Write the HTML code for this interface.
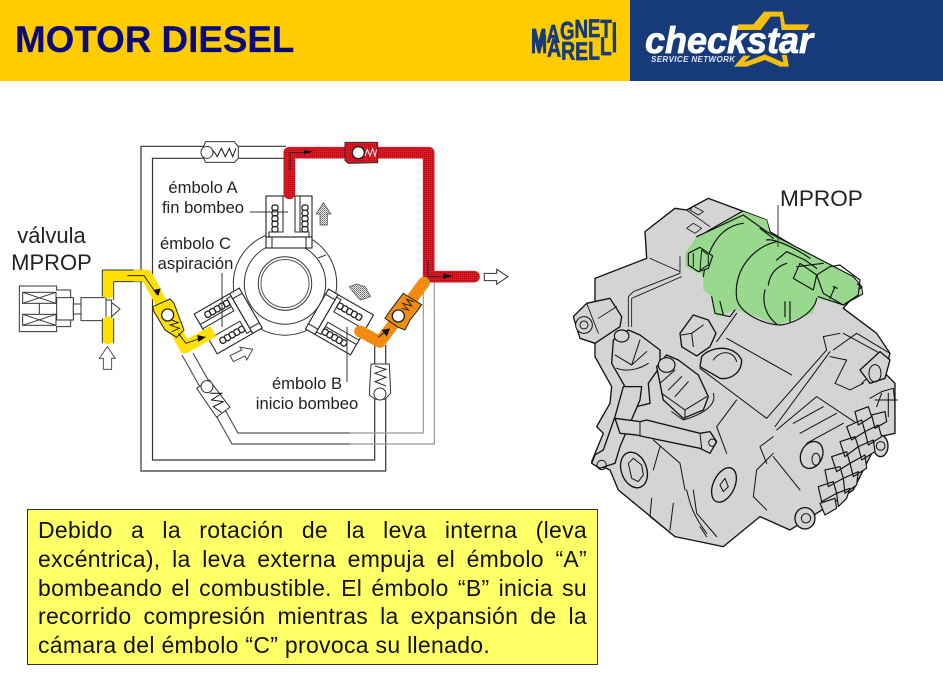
<!DOCTYPE html>
<html><head><meta charset="utf-8"><style>
html,body{margin:0;padding:0;background:#fff}
#p{position:relative;width:943px;height:674px;overflow:hidden;background:#fff;font-family:"Liberation Sans",sans-serif}
svg{position:absolute;left:0;top:0}
#box{position:absolute;left:27px;top:509px;width:571px;height:156px;box-sizing:border-box;border:1.5px solid #333;background:#ffff66;padding:6px 10px 0 10px;font-size:23px;letter-spacing:.3px;line-height:28.8px;color:#111}
#box div{text-align:justify;text-align-last:justify;white-space:nowrap}
#box div.l{text-align-last:left}
</style></head><body><div id="p">
<svg width="943" height="674" viewBox="0 0 943 674" font-family="'Liberation Sans',sans-serif">
<defs>
<pattern id="r" width="6" height="6" patternUnits="userSpaceOnUse"><rect width="6" height="6" fill="#f01020"/><rect width="3" height="3" fill="#a00c14"/></pattern>
<pattern id="d" width="6" height="6" patternUnits="userSpaceOnUse"><rect width="6" height="6" fill="#eee"/><rect width="3" height="3" fill="#666"/><rect x="3" y="3" width="3" height="3" fill="#888"/></pattern>
<g id="coils" fill="none" stroke="#222" stroke-width="1.3">
<rect x="-3" y="0" width="6" height="5.4" rx="2"/><rect x="-3" y="5.4" width="6" height="5.4" rx="2"/><rect x="-3" y="10.8" width="6" height="5.4" rx="2"/><rect x="-3" y="16.2" width="6" height="5.4" rx="2"/><rect x="-3" y="21.6" width="6" height="5.4" rx="2"/>
</g>
<g id="plunger" fill="none" stroke="#222" stroke-width="1.1">
<rect x="-23" y="-91" width="46" height="41" fill="#fff"/>
<rect x="-23" y="-50" width="46" height="11" fill="#fff"/>
<path d="M-20 -50V-55H-6V-91M6 -91V-55H20V-50M11 -91V-55M-17 -50V-39M17 -50V-39" stroke="#333"/>
<use href="#coils" x="-14" y="-82"/>
<use href="#coils" x="16" y="-82"/>
</g>
</defs>

<!-- header -->
<rect width="630" height="81" fill="#ffcc00"/>
<rect x="630" width="313" height="81" fill="#163a7a"/>
<text x="15" y="52" font-size="36.8" font-weight="bold" fill="#0a0a78" stroke="#0a0a78" stroke-width=".2">MOTOR DIESEL</text>
<g fill="#163a7a" font-weight="bold" stroke="#163a7a" stroke-width=".7" font-size="25">
<text transform="translate(531,0) scale(.745,1)" x="0" y="46.5 42.5 39.5 37.5 37 37.5 40">MAGNETI</text>
<text transform="translate(531,0) scale(.775,1)" x="0" y="53 56.7 59.5 60 59.5 55 52">MARELLI</text>
</g>
<g transform="translate(640,5) scale(.3333)" fill="#f5bf10">
<path d="M372 20H428L435 58H508L498 75H425L420 35H392L362 75H285L295 58H340Z"/>
<path d="M282 185L310 152H332L312 172L375 148L430 172L425 150H440L447 185H420L375 165L320 185Z"/>
</g>
<text x="645" y="53" font-size="37" font-weight="bold" font-style="italic" fill="#fff" stroke="#fff" stroke-width=".8" textLength="168" lengthAdjust="spacingAndGlyphs">checkstar</text>
<text x="651" y="62" font-size="8" font-weight="bold" font-style="italic" fill="#dfe6f2" textLength="84" lengthAdjust="spacing">SERVICE NETWORK</text>

<!-- frame pipes -->
<g fill="none" stroke="#333" stroke-width="1.2">
<path d="M286 146.3H141V471H385.7V345"/>
<path d="M286 158.3H152.5V460H374.7V345"/>
<path stroke="#555" d="M193 353L238 433H350"/>
<path stroke="#555" d="M182 355L232 444H350"/>
<path stroke="#999" d="M350 433H423.3V282M350 444H434.3V282"/>
</g>
<!-- cam -->
<g fill="none" stroke="#333">
<circle cx="285" cy="283.5" r="51.7" fill="#fff"/>
<circle cx="285" cy="283.5" r="40.7"/>
<circle cx="285" cy="283.5" r="26.7"/>
<circle cx="285" cy="283.5" r="24" stroke="#555"/>
<path d="M318 258L326 255" stroke="#333"/>
</g>
<use href="#plunger" transform="translate(289,287)"/>
<use href="#plunger" transform="translate(283.2,289.5) rotate(120)"/>
<use href="#plunger" transform="translate(284.5,288.5) rotate(-120)"/>

<!-- MPROP valve -->
<g transform="translate(0,130) scale(.3333)" fill="#fff" stroke="#333" stroke-width="3">
<path d="M58 468H170V480H212V505H220V570H212V590H170V605H58Z"/>
<rect x="68" y="487" width="100" height="33"/><rect x="68" y="553" width="100" height="33"/>
<path d="M68 487L168 520M168 487L68 520M68 553L168 586M168 553L68 586M118 520V553"/>
<rect x="170" y="503" width="50" height="67"/>
<rect x="220" y="522" width="23" height="30"/>
<rect x="243" y="503" width="75" height="69"/>
<path d="M318 510H335V565H318ZM335 518L360 537L335 560Z"/>
<path fill="#ffe000" stroke="none" d="M307 420H430V455H341V490C341 510 307 510 307 490Z"/>
<path fill="#ffe000" stroke="none" d="M307 580C307 552 341 552 341 580V625C341 648 307 648 307 625Z"/>
<path fill="none" d="M307 420V500M341 455V510M341 565V640M307 565V640M307 420H430M341 455H430"/>
<path d="M310 718H335V685H346L322 650L298 685H310Z" stroke-width="2.5"/>
</g>

<!-- yellow line -->
<g transform="translate(0,130) scale(.3333)">
<path d="M400 437H440L555 652L640 604" fill="none" stroke="#ffe000" stroke-width="36" stroke-linejoin="round"/>
<path d="M382 437H432L472 495" fill="none" stroke="#222" stroke-width="3"/><path d="M460 480L482 475L475 498Z" fill="#111"/>
<path fill="#ffe000" stroke="#222" stroke-width="3" d="M458 530L510 507L522 520L552 600L530 622L495 600L462 545Z"/>
<circle cx="503" cy="555" r="18" fill="#fff" stroke="#222" stroke-width="4"/>
<path d="M515 570L535 578L510 585L538 595L515 605" fill="none" stroke="#222" stroke-width="3"/>
<path d="M535 610L558 640L610 622" fill="none" stroke="#222" stroke-width="3"/><path d="M592 615L618 621L595 636Z" fill="#111"/>
</g>

<!-- top / lower valves -->
<g transform="translate(0,130) scale(.3333)" fill="#fff" stroke="#333" stroke-width="3">
<path d="M603 67L617 35H703L715 50V85L703 97H617Z"/>
<circle cx="621" cy="67" r="18"/>
<path fill="none" stroke="#111" d="M640 62L652 80L664 55L676 80L688 55L698 80L708 55"/>
<path d="M590 775L628 750L690 832L650 862Z"/>
<circle cx="621" cy="770" r="18"/>
<path fill="none" stroke="#111" d="M630 790L665 790L635 810L670 815L640 830L665 848"/>
</g>

<!-- red + orange -->
<g transform="translate(270,130) scale(.3333)">
<path d="M58 190V68H476V440H612" fill="none" stroke="url(#r)" stroke-width="35" stroke-linecap="round" stroke-linejoin="round"/>
<path d="M462 458L330 636L270 604" fill="none" stroke="#f28c10" stroke-width="35" stroke-linecap="round" stroke-linejoin="round"/>
<path d="M60 120V68H120M474 390V440H540" fill="none" stroke="#222" stroke-width="3"/>
<path d="M102 60L128 65L102 72ZM520 430L548 438L520 447Z" fill="#111"/>
<path d="M225 37H323V98L235 100L225 92Z" fill="url(#r)" stroke="#333" stroke-width="3"/>
<circle cx="265" cy="68" r="18" fill="#fff" stroke="#222" stroke-width="4"/>
<path d="M285 78L292 58L300 78L308 56L315 78L320 58" fill="none" stroke="#eee" stroke-width="3"/>
<path d="M400 490L412 498L455 524L440 545L420 570L405 600L385 592L345 565L358 545Z" fill="#f28c10" stroke="#222" stroke-width="3"/>
<circle cx="385" cy="558" r="18" fill="#fff" stroke="#222" stroke-width="4"/>
<path d="M395 535L415 540L398 520L425 528L410 508L432 516" fill="none" stroke="#222" stroke-width="3"/>
<path d="M325 622L352 600" stroke="#222" stroke-width="3"/><path d="M335 600L360 595L350 620Z" fill="#111"/>
<path d="M303 702H358L362 790L345 808H315L298 795Z" fill="#fff" stroke="#333" stroke-width="3"/>
<circle cx="330" cy="792" r="18" fill="#fff" stroke="#333" stroke-width="3"/>
<path d="M315 708L348 718L315 730L348 742L315 755L348 768" fill="none" stroke="#222" stroke-width="3"/>
<path d="M643 430H680V418L714 440L680 463V452H643Z" fill="#fff" stroke="#333" stroke-width="3"/>
<path d="M245 480L238 470L260 462L285 470L302 500L272 510L265 505Z" fill="url(#d)" stroke="#444" stroke-width="2"/>
</g>
<g transform="translate(190,190) scale(.3333)" stroke="#444">
<path d="M378 72L400 38L423 72H412V105H390V72Z" fill="url(#d)" stroke-width="2"/>
<path d="M120 497L155 480L150 472L188 478L170 510L165 498L130 515Z" fill="#fff" stroke-width="3"/>
</g>

<!-- leaders -->
<path d="M250 212H288M222 273V327M347 327V382" fill="none" stroke="#333" stroke-width="1"/>

<!-- labels -->
<g fill="#222" text-anchor="middle">
<text x="51.5" y="243" font-size="22">válvula</text>
<text x="51.5" y="270" font-size="22">MPROP</text>
<text x="203" y="193" font-size="16.6">émbolo A</text>
<text x="203" y="213" font-size="16.6">fin bombeo</text>
<text x="195.5" y="249" font-size="16.6">émbolo C</text>
<text x="195.5" y="269" font-size="16.6">aspiración</text>
<text x="307" y="389" font-size="16.6">émbolo B</text>
<text x="307" y="409" font-size="16.6">inicio bombeo</text>
</g>

<!-- pump -->
<g transform="translate(560,170) scale(.3333)" stroke="#111" stroke-width="4" stroke-linejoin="round" stroke-linecap="round">
<path fill="#d4d4d4" d="M105 325L260 265L255 185L345 115L380 120L445 85L620 150L630 185L905 350L850 415L950 490L990 550L975 610L1005 640L1005 790L960 800L880 960L770 1030L690 1080L600 1040L490 1130L345 1100L175 960L150 900L95 875L130 790L110 770L150 700L155 650L105 560Z"/>
<path fill="#d4d4d4" d="M40 440L80 400L150 385L185 440L180 470L105 520L60 505Z"/>
<circle cx="72" cy="465" r="25" fill="#d4d4d4" stroke-width="3"/><circle cx="72" cy="465" r="12" fill="none" stroke-width="3"/>
<path fill="none" stroke-width="2.5" d="M80 400L115 490M115 445L170 410M205 470V380L220 365L360 310V260M215 470V385L365 320M270 265L360 305M380 120L450 170M400 108L430 125L415 135L390 120ZM400 160L425 175L405 190L380 175Z"/>
<!-- green -->
<path fill="#98d98e" stroke="none" d="M375 250L410 200L550 125L620 150L630 190L880 320L905 370L850 405L770 385L760 430L650 465L590 440L530 420L470 440L455 380L430 360L430 315L375 290Z"/>
<path fill="none" stroke-width="3.5" d="M410 200L550 135L620 185L880 320L905 350L908 372L850 405L775 380M600 175L640 205M440 185L545 125M550 160C470 170 440 250 430 320M650 215C580 230 520 300 530 385C540 430 610 465 665 465C720 455 765 420 770 385M620 210C640 205 700 230 750 265"/>
<path fill="none" stroke-width="3.5" d="M650 270L680 245L735 270L770 295M625 345C630 310 650 290 680 280M615 360C605 400 620 440 650 462M710 290L790 280M700 325L760 360L770 315L720 280ZM770 315L810 290L840 285L900 330L895 375L850 405L790 370ZM825 350L810 385M820 350L832 355M675 395V440M690 395V455M455 380L465 430L510 440L525 420M480 395L490 435"/>
<path fill="#98d98e" d="M385 250L420 232L458 258L445 295L415 305L385 285Z" stroke-width="3.5"/>
<path fill="none" stroke-width="3" d="M400 250V290M425 240L445 255V285L420 300Z"/>
<!-- fittings -->
<path fill="#d4d4d4" d="M160 510L205 480L240 495L300 540L300 590L265 640L270 700L230 710L195 650L155 580Z"/>
<ellipse cx="185" cy="498" rx="22" ry="18" fill="#d4d4d4" stroke-width="3.5"/>
<path fill="none" stroke-width="3" d="M165 555L215 585L240 510M215 585L260 545M170 595C210 610 250 590 265 580"/>
<path fill="#d4d4d4" d="M360 490L400 435L445 450L468 490L450 530L410 558L365 530Z"/>
<path fill="none" stroke-width="3" d="M365 495L395 490L430 465M395 490L400 530"/>
<path fill="#d4d4d4" d="M425 560C450 530 520 520 545 570C545 610 510 630 480 625L420 590Z"/>
<path fill="none" stroke-width="3" d="M460 570C480 540 520 540 530 575M500 505L695 615M470 515L530 430M420 595L620 745L800 540L790 500L840 490M645 770L810 545"/>
<path fill="#d4d4d4" d="M290 590L320 555L355 570L415 615L445 680L430 720L370 745L310 690L300 640Z"/>
<ellipse cx="320" cy="585" rx="25" ry="22" fill="#d4d4d4" stroke-width="3.5"/>
<path fill="none" stroke-width="3" d="M345 600L300 640M365 620L325 660M385 635L345 680M305 670L375 720L440 680M375 720V745M460 670C470 700 440 730 370 750L335 725"/>
<!-- rod -->
<path fill="#d4d4d4" d="M190 650H245L240 690L180 830L165 880L120 895L95 880L105 855L130 840L165 740Z"/>
<circle cx="125" cy="885" r="14" fill="none" stroke-width="3"/>
<path fill="#d4d4d4" d="M165 745L240 755L260 750L420 790L450 785L470 815L450 850L420 835L250 800L230 795L180 790Z"/>
<path fill="none" stroke-width="3" d="M420 790L425 835M240 755V795"/>
<circle cx="457" cy="818" r="11" fill="none" stroke-width="3"/>
<!-- bolts -->
<ellipse cx="222" cy="900" rx="38" ry="55" fill="#d4d4d4" transform="rotate(-20 222 900)"/>
<path fill="none" stroke-width="3" d="M205 880L220 865L245 885L250 915L235 935L215 925Z"/>
<ellipse cx="492" cy="945" rx="32" ry="55" fill="#d4d4d4" transform="rotate(25 492 945)"/>
<path fill="none" stroke-width="3" d="M480 945L495 925L505 950L490 965ZM280 810L360 880L375 960M300 830L280 900M400 960L410 1030L470 1100M340 1000L330 1080M275 985L270 1040L345 1100M420 1070L440 1100M380 960C390 1000 395 1030 440 1090M530 690L470 770L500 850M640 850L590 900L580 980L620 1020M640 800L600 830L620 880"/>
<ellipse cx="755" cy="855" rx="32" ry="42" fill="#d4d4d4" transform="rotate(25 755 855)"/>
<ellipse cx="768" cy="868" rx="12" ry="18" fill="none" stroke-width="3"/>
<ellipse cx="735" cy="1045" rx="30" ry="32" fill="#d4d4d4"/>
<circle cx="738" cy="1045" r="14" fill="none" stroke-width="3"/>
<ellipse cx="962" cy="828" rx="22" ry="32" fill="#d4d4d4"/><circle cx="962" cy="828" r="13" fill="none" stroke-width="3"/>
<!-- right side -->
<path fill="none" stroke-width="3" d="M820 540L890 490L990 550M810 560L860 570L825 640L870 660L910 640M905 640L960 590M650 780L770 680L890 760M700 760L790 710M720 790L830 730M740 820L850 760M640 860L720 960M850 490L960 550"/>
<path fill="#d4d4d4" d="M900 600L960 545L990 570L975 625L930 640Z"/>
<ellipse cx="945" cy="610" rx="18" ry="26" fill="none" stroke-width="3"/>
<g fill="#d4d4d4" stroke-width="3.5">
<path d="M885 725L925 710L935 740L895 765ZM935 735L975 725L980 755L945 775ZM860 770L905 750L915 785L875 810ZM915 785L955 765L965 800L925 825ZM840 815L885 800L895 830L855 860ZM895 830L940 810L945 845L905 870ZM815 860L860 845L870 880L830 905ZM870 880L915 855L920 895L880 920ZM795 900L840 890L850 925L805 950ZM850 925L895 905L890 945L855 970ZM775 950L820 935L830 970L785 995ZM830 970L870 955L860 985L835 1010ZM780 1000L825 985L830 1015L795 1035Z"/>
</g>
<path fill="none" stroke-width="3" d="M930 685L965 665L1000 655L1005 700M945 690H1012M965 670L950 710M985 670V740"/>
</g>
<text x="780" y="206" font-size="22.6" fill="#222">MPROP</text>
<path d="M778 205V247" stroke="#333" stroke-width="1"/>
</svg>
<div id="box"><div>Debido a la rotación de la leva interna (leva</div><div>excéntrica), la leva externa empuja el émbolo “A”</div><div>bombeando el combustible. El émbolo “B” inicia su</div><div>recorrido compresión mientras la expansión de la</div><div class="l">cámara del émbolo “C” provoca su llenado.</div></div>
</div></body></html>
